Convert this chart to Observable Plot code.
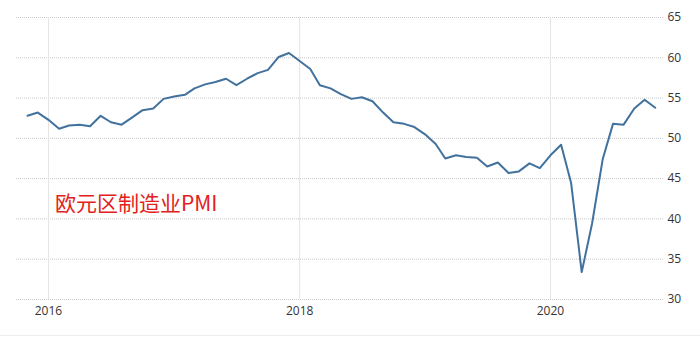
<!DOCTYPE html>
<html>
<head>
<meta charset="utf-8">
<script src="https://cdn.jsdelivr.net/npm/d3@7"></script>
<script src="https://cdn.jsdelivr.net/npm/@observablehq/plot@0.6"></script>
<style>
  html, body { margin: 0; padding: 0; background: #fff; }
  #chart svg { display: block; border-bottom: 1px solid #ececec; }
</style>
</head>
<body>
<div id="chart"></div>
<script>
const months = [
  "2015-11","2015-12",
  "2016-01","2016-02","2016-03","2016-04","2016-05","2016-06","2016-07","2016-08","2016-09","2016-10","2016-11","2016-12",
  "2017-01","2017-02","2017-03","2017-04","2017-05","2017-06","2017-07","2017-08","2017-09","2017-10","2017-11","2017-12",
  "2018-01","2018-02","2018-03","2018-04","2018-05","2018-06","2018-07","2018-08","2018-09","2018-10","2018-11","2018-12",
  "2019-01","2019-02","2019-03","2019-04","2019-05","2019-06","2019-07","2019-08","2019-09","2019-10","2019-11","2019-12",
  "2020-01","2020-02","2020-03","2020-04","2020-05","2020-06","2020-07","2020-08","2020-09","2020-10","2020-11"
];
const pmi = [
  52.8, 53.2,
  52.3, 51.2, 51.6, 51.7, 51.5, 52.8, 52.0, 51.7, 52.6, 53.5, 53.7, 54.9,
  55.2, 55.4, 56.2, 56.7, 57.0, 57.4, 56.6, 57.4, 58.1, 58.5, 60.1, 60.6,
  59.6, 58.6, 56.6, 56.2, 55.5, 54.9, 55.1, 54.6, 53.2, 52.0, 51.8, 51.4,
  50.5, 49.3, 47.5, 47.9, 47.7, 47.6, 46.5, 47.0, 45.7, 45.9, 46.9, 46.3,
  47.9, 49.2, 44.5, 33.4, 39.4, 47.4, 51.8, 51.7, 53.7, 54.8, 53.8
];
const yTicks = [30, 35, 40, 45, 50, 55, 60, 65];
const xTickYears = ["2016-01-01", "2018-01-01", "2020-01-01"];
const xDomain = ["2015-09-30", "2020-11-25"];
const annotation = "欧元区制造业PMI";
const annotationPos = {date: "2016-01-20", value: 41.8};

const parse = d3.utcParse("%Y-%m");
const data = months.map((m, i) => ({date: parse(m), value: pmi[i]}));
const xTicks = xTickYears.map(d => new Date(d));

const chart = Plot.plot({
  width: 700,
  height: 335,
  marginLeft: 16,
  marginRight: 37,
  marginTop: 17,
  marginBottom: 36,
  style: {fontFamily: "'Open Sans', 'Noto Sans', sans-serif", fontSize: "12px", color: "#333", background: "#fff"},
  x: {type: "utc", domain: xDomain.map(d => new Date(d))},
  y: {domain: [30, 65]},
  marks: [
    Plot.gridY(yTicks, {stroke: "#c8c8c8", strokeOpacity: 1, strokeDasharray: "1,1"}),
    Plot.gridX(xTicks, {stroke: "#e4e4e4", strokeOpacity: 1}),
    Plot.axisY(yTicks, {anchor: "right", tickSize: 0, tickPadding: 4, textAnchor: "start", label: null, fill: "#333"}),
    Plot.axisX(xTicks, {anchor: "bottom", tickSize: 0, tickPadding: 7, tickFormat: d3.utcFormat("%Y"), label: null, fill: "#333"}),
    Plot.line(data, {x: "date", y: "value", stroke: "#41719d", strokeWidth: 2, curve: "linear"}),
    Plot.text([annotationPos], {
      x: d => new Date(d.date), y: "value", text: () => annotation,
      textAnchor: "start", fill: "#e3211c", fontSize: 21,
      fontFamily: "'Noto Sans CJK SC', sans-serif"
    })
  ]
});
document.getElementById("chart").appendChild(chart);
</script>
</body>
</html>
